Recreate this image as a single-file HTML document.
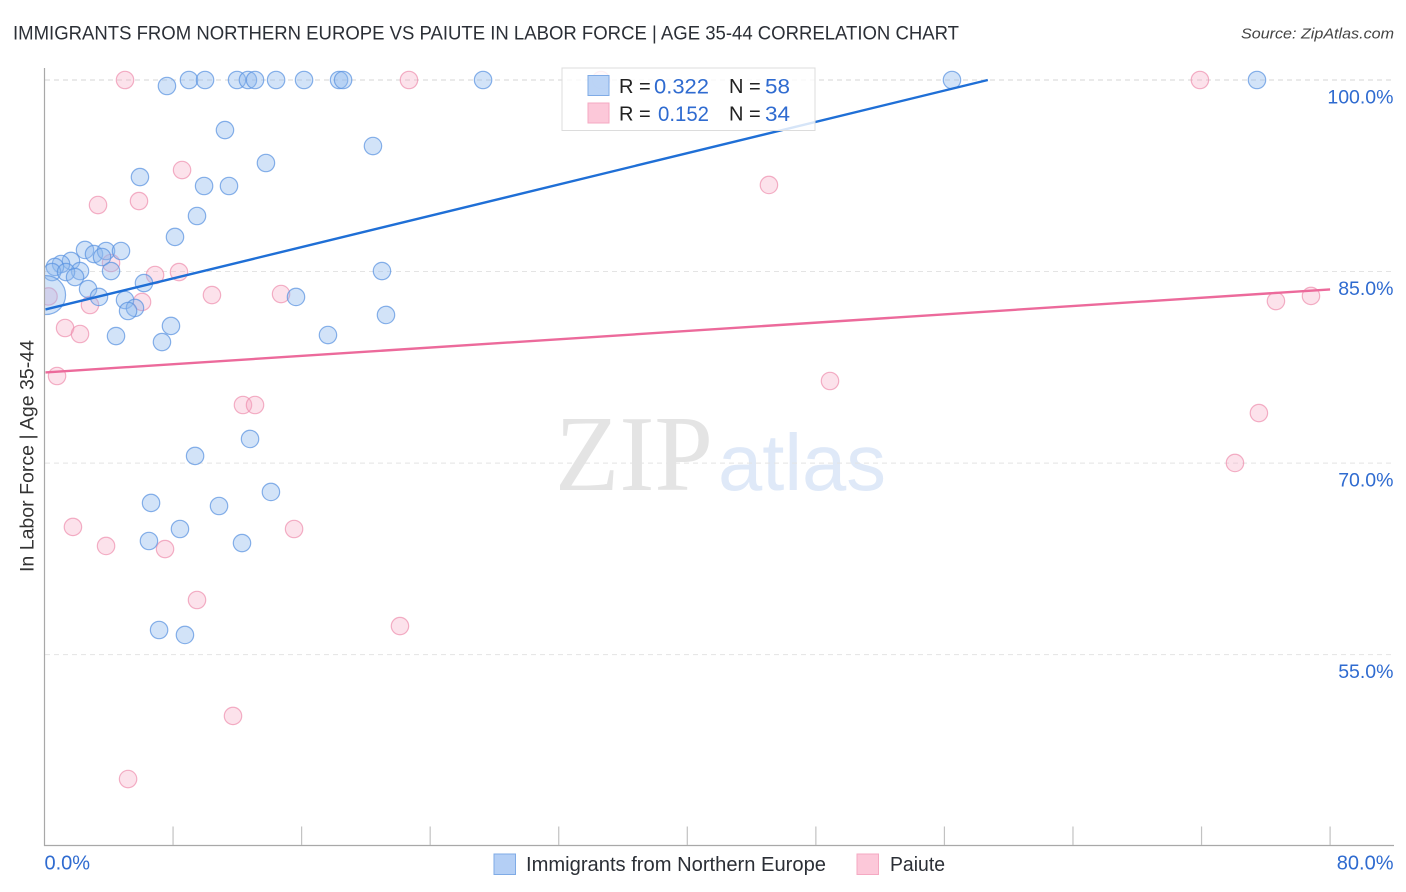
<!DOCTYPE html>
<html lang="en">
<head>
<meta charset="utf-8">
<title>Immigrants from Northern Europe vs Paiute in Labor Force | Age 35-44 Correlation Chart</title>
<style>
html,body{margin:0;padding:0;background:#fff;width:1406px;height:892px;overflow:hidden}
svg{display:block;font-family:"Liberation Sans",sans-serif}
</style>
</head>
<body>
<svg id="chart" width="1406" height="892" viewBox="0 0 1406 892" xmlns="http://www.w3.org/2000/svg">
  <defs><clipPath id="plot-clip"><rect x="45" y="60" width="1349" height="785"/></clipPath></defs>
  <text x="13" y="39.5" font-size="19.5" fill="#2b2f36" textLength="946" lengthAdjust="spacingAndGlyphs">IMMIGRANTS FROM NORTHERN EUROPE VS PAIUTE IN LABOR FORCE | AGE 35-44 CORRELATION CHART</text>
  <text x="1394" y="38.5" font-size="15" font-style="italic" fill="#444" text-anchor="end" textLength="153" lengthAdjust="spacingAndGlyphs">Source: ZipAtlas.com</text>
  <g>
    <text x="555" y="490" font-family="'Liberation Serif',serif" font-size="108" fill="#e4e4e4" textLength="158" lengthAdjust="spacingAndGlyphs">ZIP</text>
    <text x="718" y="490" font-size="80" fill="#dfe9f8" textLength="168" lengthAdjust="spacingAndGlyphs">atlas</text>
  </g>
  <g id="grid"></g>
  <g id="points" clip-path="url(#plot-clip)"></g>
  <g id="trends"></g>
  <g id="axes"></g>
  <text transform="translate(33.5,456) rotate(-90)" font-size="19" fill="#333" text-anchor="middle" textLength="232" lengthAdjust="spacingAndGlyphs">In Labor Force | Age 35-44</text>
  <g>
    <rect x="562" y="68" width="253" height="62.5" fill="#fff" fill-opacity="0.82" stroke="#dcdcdc" stroke-width="1"/>
    <rect x="588" y="75.5" width="21" height="20" fill="#b4cff5" fill-opacity="0.9" stroke="#7fabe6"/>
    <rect x="588" y="103" width="21" height="20" fill="#fcc8d9" stroke="#f5a9c2"/>
    <g font-size="20" fill="#222">
      <text x="619" y="93">R =</text>
      <text x="729" y="93">N =</text>
      <text x="619" y="120.5">R =</text>
      <text x="729" y="120.5">N =</text>
    </g>
    <g font-size="21" fill="#2f6bd0">
      <text x="654" y="93.5" textLength="55" lengthAdjust="spacingAndGlyphs">0.322</text>
      <text x="765" y="93.5" textLength="25" lengthAdjust="spacingAndGlyphs">58</text>
      <text x="658" y="121" textLength="51" lengthAdjust="spacingAndGlyphs">0.152</text>
      <text x="765" y="121" textLength="25" lengthAdjust="spacingAndGlyphs">34</text>
    </g>
  </g>
  <g>
    <rect x="494" y="854" width="21.5" height="20.5" fill="#b4cff5" stroke="#7fabe6"/>
    <text x="526" y="871" font-size="20" fill="#2b2f36" textLength="300" lengthAdjust="spacingAndGlyphs">Immigrants from Northern Europe</text>
    <rect x="857" y="854" width="21.5" height="20.5" fill="#fcc8d9" stroke="#f5a9c2"/>
    <text x="890" y="871" font-size="20" fill="#2b2f36" textLength="55" lengthAdjust="spacingAndGlyphs">Paiute</text>
  </g>
</svg>
<script>
const blueX = [7.62,8.99,9.99,11.98,12.66,13.10,14.41,16.15,18.33,18.58,27.29,56.47,75.45,11.23,20.44,13.78,5.94,9.93,11.48,9.49,8.12,2.52,3.08,3.83,3.58,4.76,1.65,1.03,0.65,0.47,2.21,1.34,1.90,4.14,21.0,2.71,3.39,6.19,5.01,5.63,5.20,15.65,21.25,7.87,4.45,17.64,7.31,12.79,9.37,14.09,6.63,10.86,8.43,6.5,12.29,7.13,8.74,0.1];
const blueY = [99.53,100,100,100,100,100,100,100,100,100,100,100,100,96.08,94.83,93.5,92.4,91.7,91.7,89.35,87.71,86.69,86.37,86.61,86.14,86.61,85.83,85.59,85.36,84.96,85.04,84.96,84.57,85.04,85.04,83.63,83.01,84.1,82.77,82.15,81.91,83.01,81.6,80.74,79.95,80.03,79.48,71.89,70.56,67.74,66.88,66.64,64.84,63.9,63.74,56.93,56.54,83.16];
const blueWeight = [1,1,1,1,1,1,1,1,1,1,1,1,1,1,1,1,1,1,1,1,1,1,1,1,1,1,1,1,1,1,1,1,1,1,1,1,1,1,1,1,1,1,1,1,1,1,1,1,1,1,1,1,1,1,1,1,1,5];
const pinkX = [5.01,22.68,71.9,34.63,8.56,45.08,3.33,5.88,4.14,6.88,8.37,10.42,14.72,6.07,2.83,76.63,78.81,1.28,2.21,0.78,48.88,12.35,13.1,75.57,74.08,1.77,15.53,3.83,7.5,9.49,22.12,11.73,5.2,0.25];
const pinkY = [100,100,100,100,92.95,91.78,90.21,90.52,85.67,84.73,84.96,83.16,83.24,82.62,82.38,82.69,83.09,80.58,80.11,76.82,76.43,74.55,74.55,73.92,70.01,65,64.84,63.51,63.27,59.28,57.24,50.2,45.26,83.05];
const blueTrendX = [0,58.7];
const blueTrendY = [82.03,100];
const pinkTrendX = [0,80];
const pinkTrendY = [77.1,83.6];
const yTicks = [100,85,70,55];
const yTickLabels = ["100.0%","85.0%","70.0%","55.0%"];
const xTicks = [8,16,24,32,40,48,56,64,72,80];
const xEndTicks = [0,80];
const xEndLabels = ["0.0%","80.0%"];

const NS = 'http://www.w3.org/2000/svg';
function xScale(v){ return 44.5 + v * 16.07; }
function yScale(v){ return 80 + (100 - v) * 12.77; }
function make(tag, attrs, parent){
  const el = document.createElementNS(NS, tag);
  for (const k in attrs) el.setAttribute(k, attrs[k]);
  parent.appendChild(el);
  return el;
}
const gridG = document.getElementById('grid');
const pointsG = document.getElementById('points');
const trendsG = document.getElementById('trends');
const axesG = document.getElementById('axes');

yTicks.forEach(function(t, i){
  const y = yScale(t);
  const g = make('line', {x1:45, x2:1394, y1:y, y2:y, stroke: i === 0 ? '#d4d4d4' : '#e4e4e4', 'stroke-width':1, 'stroke-dasharray':'5 4'}, gridG);
  
  
  const lab = make('text', {x:1393.5, y:y + 23.5, 'font-size':19.5, fill:'#2f6bd0', 'text-anchor':'end'}, axesG);
  lab.textContent = yTickLabels[i];
  
  
});

pinkX.forEach(function(v, i){
  const c = make('circle', {cx:xScale(v), cy:yScale(pinkY[i]), r:8.7, fill:'#f7a8c2', 'fill-opacity':0.33, stroke:'#ee8fae', 'stroke-opacity':0.7, 'stroke-width':1.2}, pointsG);
  
  
});
blueX.forEach(function(v, i){
  const c = make('circle', {cx:xScale(v), cy:yScale(blueY[i]), r:8.7 * Math.sqrt(blueWeight[i]), fill:'#8fb8ee', 'fill-opacity':0.4, stroke:'#5a93e0', 'stroke-opacity':0.72, 'stroke-width':1.2}, pointsG);
  
  
});

const blueLine = make('line', {x1:xScale(blueTrendX[0]) + 1, y1:yScale(blueTrendY[0]), x2:xScale(blueTrendX[1]), y2:yScale(blueTrendY[1]), stroke:'#1f6fd6', 'stroke-width':2.4}, trendsG);


const pinkLine = make('line', {x1:xScale(pinkTrendX[0]) + 1, y1:yScale(pinkTrendY[0]), x2:xScale(pinkTrendX[1]), y2:yScale(pinkTrendY[1]), stroke:'#ec6a9b', 'stroke-width':2.4}, trendsG);



const yAxis = make('line', {x1:44.5, x2:44.5, y1:68, y2:846, stroke:'#a8a8a8', 'stroke-width':1.2}, axesG);


const xAxis = make('line', {x1:44, x2:1394, y1:845.5, y2:845.5, stroke:'#a8a8a8', 'stroke-width':1.2}, axesG);


xTicks.forEach(function(t){
  const x = xScale(t);
  const tick = make('line', {x1:x, x2:x, y1:826.5, y2:845, stroke:'#c2c2c2', 'stroke-width':1.2}, axesG);
  
  
});
xEndTicks.forEach(function(t, i){
  const lab = make('text', {x: i === 0 ? xScale(t) : 1393.5, y:869.5, 'font-size':20, fill:'#2f6bd0', 'text-anchor': i === 0 ? 'start' : 'end'}, axesG);
  lab.textContent = xEndLabels[i];
  
  
});
</script>
</body>
</html>
